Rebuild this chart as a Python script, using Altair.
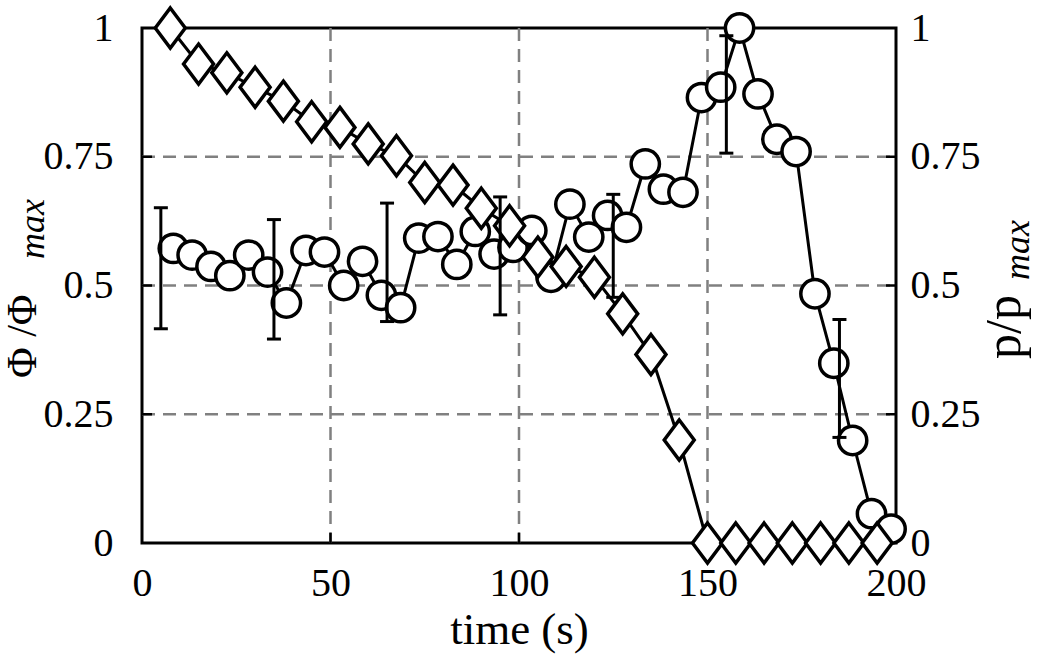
import altair as alt
import pandas as pd

# ---------------- data ----------------
diamond_t = [7.5, 15, 22.5, 30, 37.5, 45, 52.5, 60, 67.5, 75, 82.5, 90, 97.5,
             105, 112.5, 120, 127.5, 135, 142.5, 150, 157.5, 165, 172.5, 180, 187.5, 195]
diamond_phi = [1.0, 0.930, 0.913, 0.885, 0.858, 0.818, 0.807, 0.775, 0.752, 0.700,
               0.695, 0.650, 0.616, 0.555, 0.537, 0.516, 0.445, 0.366, 0.200,
               0, 0, 0, 0, 0, 0, 0]

circle_t = [8.3, 13.3, 18.3, 23.3, 28.3, 33.3, 38.3, 43.5, 48.4, 53.5,
            58.5, 63.5, 68.6, 73.4, 78.5, 83.5, 88.4, 93.4, 98.4, 103.4,
            108.5, 113.5, 118.5, 123.5, 128.5, 133.5, 138.3, 143.5, 148.4, 153.5,
            158.5, 163.4, 168.4, 173.5, 178.5, 183.5, 188.5, 193.5, 198.7]
circle_p = [0.572, 0.559, 0.537, 0.519, 0.559, 0.526, 0.466, 0.568, 0.565, 0.500,
            0.547, 0.481, 0.457, 0.592, 0.595, 0.541, 0.605, 0.561, 0.574, 0.607,
            0.516, 0.658, 0.594, 0.636, 0.613, 0.736, 0.687, 0.681, 0.865, 0.885,
            1.000, 0.872, 0.784, 0.760, 0.484, 0.349, 0.199, 0.057, 0.027]

err_t = [5, 35, 65, 95, 125, 155, 185]
err_lo = [0.416, 0.396, 0.430, 0.443, 0.477, 0.757, 0.205]
err_hi = [0.651, 0.628, 0.660, 0.672, 0.677, 0.985, 0.434]

x_ticks = [0, 50, 100, 150, 200]
y_ticks = [0, 0.25, 0.5, 0.75, 1]
x_grid = [50, 100, 150]
y_grid = [0.25, 0.5, 0.75]

left_title = ["Φ /Φ"]
right_title = ["p/p"]
sub_title = ["max"]
x_title = "time (s)"

# ---------------- styling ----------------
W, H = 754, 515
FONT = "Liberation Serif"
BLACK = "black"
GRID = "#808080"

xs = alt.Scale(domain=[0, 200], nice=False, zero=False)
ys = alt.Scale(domain=[0, 1], nice=False, zero=False)

xax = alt.Axis(values=x_ticks, labelExpr="toString(datum.value)", grid=False, ticks=False,
               domain=False, labelPadding=20, labelFont=FONT, labelFontSize=40,
               labelColor=BLACK, labelFlush=False, labelOverlap=False,
               title=x_title, titleFont=FONT, titleFontSize=45, titleFontWeight="normal",
               titleColor=BLACK, titleY=100, titleBaseline="alphabetic")
yax_left = alt.Axis(values=y_ticks, labelExpr="toString(datum.value)", grid=False,
                    ticks=False, domain=False, labelPadding=29, labelFont=FONT,
                    labelFontSize=40, labelColor=BLACK, labelFlush=False,
                    labelOverlap=False, title=None)
yax_right = alt.Axis(values=y_ticks, labelExpr="toString(datum.value)", grid=False,
                     ticks=False, domain=False, orient="right", labelPadding=14,
                     labelFont=FONT, labelFontSize=40, labelColor=BLACK,
                     labelFlush=False, labelOverlap=False, title=None)

df_xg = pd.DataFrame({"g": x_grid})
df_yg = pd.DataFrame({"g": y_grid})
df_c = pd.DataFrame({"t": circle_t, "p": circle_p})
df_d = pd.DataFrame({"t": diamond_t, "phi": diamond_phi})
df_e = pd.DataFrame({"t": err_t, "lo": err_lo, "hi": err_hi})

X = lambda f: alt.X(f, scale=xs, axis=xax)
Y = lambda f: alt.Y(f, scale=ys, axis=yax_left)

grid_x = alt.Chart(df_xg).mark_rule(color=GRID, strokeWidth=2.5, strokeDash=[13, 8]).encode(
    x=X("g:Q"), y=alt.value(0), y2=alt.value(H))
grid_y = alt.Chart(df_yg).mark_rule(color=GRID, strokeWidth=2.5, strokeDash=[13, 8]).encode(
    y=Y("g:Q"), x=alt.value(0), x2=alt.value(W))
tick_left = alt.Chart(df_yg).mark_rule(color=BLACK, strokeWidth=2.5).encode(
    y=Y("g:Q"), x=alt.value(0), x2=alt.value(10))
tick_bottom = alt.Chart(df_xg).mark_rule(color=BLACK, strokeWidth=2.5).encode(
    x=X("g:Q"), y=alt.value(H - 10), y2=alt.value(H))

c_line = alt.Chart(df_c).mark_line(color=BLACK, strokeWidth=3).encode(x=X("t:Q"), y=Y("p:Q"))
c_pts = alt.Chart(df_c).mark_point(shape="circle", size=800, filled=True, fill="white",
                                   stroke=BLACK, strokeWidth=3.5, opacity=1, fillOpacity=1).encode(
    x=X("t:Q"), y=Y("p:Q"))
d_line = alt.Chart(df_d).mark_line(color=BLACK, strokeWidth=3).encode(x=X("t:Q"), y=Y("phi:Q"))
d_pts = alt.Chart(df_d).mark_point(shape="M0,-1L0.75,0L0,1L-0.75,0Z", size=1600, filled=True,
                                   fill="white", stroke=BLACK, strokeWidth=3.5, opacity=1,
                                   fillOpacity=1).encode(x=X("t:Q"), y=Y("phi:Q"))
e_bar = alt.Chart(df_e).mark_rule(color=BLACK, strokeWidth=3).encode(
    x=X("t:Q"), y=Y("lo:Q"), y2="hi:Q")
e_cap_lo = alt.Chart(df_e).mark_tick(orient="horizontal", size=14, thickness=3, color=BLACK,
                                     opacity=1).encode(x=X("t:Q"), y=Y("lo:Q"))
e_cap_hi = alt.Chart(df_e).mark_tick(orient="horizontal", size=14, thickness=3, color=BLACK,
                                     opacity=1).encode(x=X("t:Q"), y=Y("hi:Q"))

lt = alt.Chart(pd.DataFrame({"s": left_title})).mark_text(
    angle=270, align="left", baseline="alphabetic", font=FONT, fontSize=42, color=BLACK).encode(
    text="s:N", x=alt.value(-106), y=alt.value(350))
lt_sub = alt.Chart(pd.DataFrame({"s": sub_title})).mark_text(
    angle=270, align="left", baseline="alphabetic", font=FONT, fontSize=36, fontStyle="italic",
    color=BLACK).encode(text="s:N", x=alt.value(-98), y=alt.value(231))
rt = alt.Chart(pd.DataFrame({"s": right_title})).mark_text(
    angle=270, align="left", baseline="alphabetic", font=FONT, fontSize=50, color=BLACK).encode(
    text="s:N", x=alt.value(878), y=alt.value(331))
rt_sub = alt.Chart(pd.DataFrame({"s": sub_title})).mark_text(
    angle=270, align="left", baseline="alphabetic", font=FONT, fontSize=36, fontStyle="italic",
    color=BLACK).encode(text="s:N", x=alt.value(887), y=alt.value(252))

main = alt.layer(grid_x, grid_y, tick_left, tick_bottom, c_line, c_pts, d_line, d_pts,
                 e_bar, e_cap_lo, e_cap_hi, lt, lt_sub, rt, rt_sub)

right = alt.Chart(df_yg).mark_rule(color=BLACK, strokeWidth=2.5).encode(
    y=alt.Y("g:Q", scale=ys, axis=yax_right), x=alt.value(W - 10), x2=alt.value(W))

chart = alt.layer(main, right).resolve_scale(y="independent").properties(
    width=W, height=H,
    padding={"left": 142, "top": 28, "right": 159, "bottom": 112},
    autosize=alt.AutoSizeParams(type="none"),
    background="white",
).configure_view(stroke=BLACK, strokeWidth=3)

chart.save("out.html", embed_options={"renderer": "svg", "actions": False})
